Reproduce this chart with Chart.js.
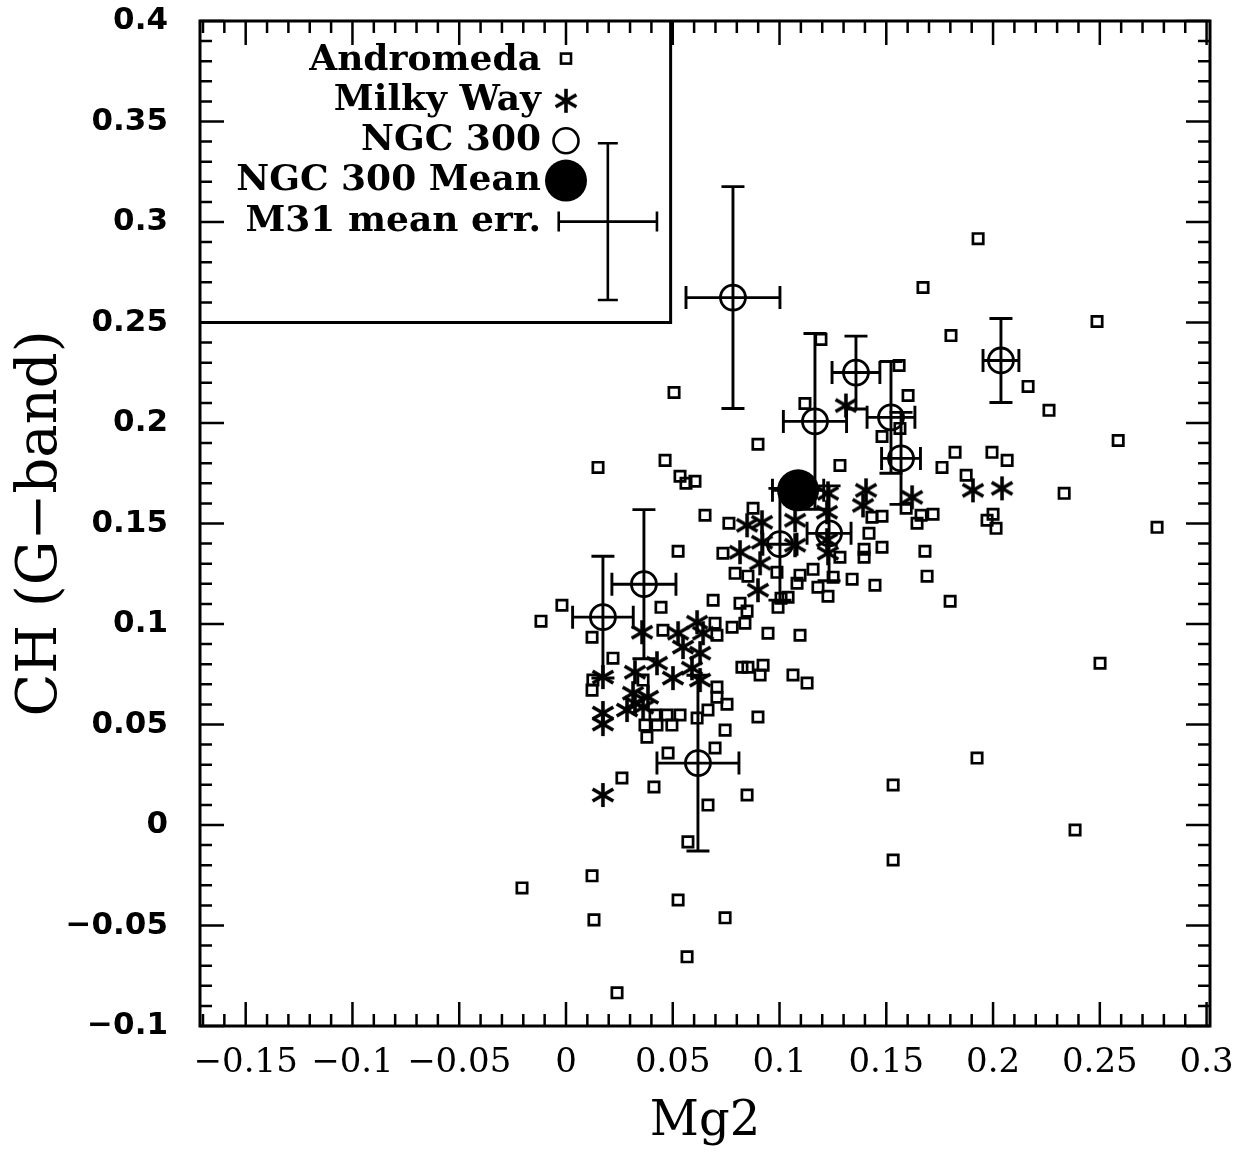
<!DOCTYPE html>
<html>
<head>
<meta charset="utf-8">
<script src="https://cdn.jsdelivr.net/npm/chart.js@4/dist/chart.umd.min.js"></script>
<style>
  html, body { margin: 0; padding: 0; background: #fff; }
  #wrap { width: 1253px; height: 1157px; }
</style>
</head>
<body>
<div id="wrap"><canvas id="c" width="1253" height="1157"></canvas></div>
<script>
// ---- Andromeda (M31) clusters: Mg2 vs CH (G-band) ----
const andromedaMg2 = [
  0.193, 0.1672, 0.1803, 0.2487, 0.1194, 0.156, 0.1602, 0.2164, 0.2262, 0.2586,
  0.1564, 0.148, 0.1822, 0.1761, 0.1874, 0.1995, 0.2066, 0.2333, 0.2768, 0.2,
  0.1972, 0.2014, 0.1433, 0.148, 0.1419, 0.1396, 0.1396, 0.148, 0.1681, 0.1691,
  0.1593, 0.1644, 0.1663, 0.1719, 0.134, 0.1447, 0.1799, 0.1283, 0.1283, 0.1119,
  0.0899, 0.0651, 0.0763, 0.0876, 0.0735, 0.0792, 0.0852, 0.0988, 0.0689, 0.0815,
  0.0848, 0.1007, 0.104, 0.0993, 0.0778, 0.0838, 0.0698, 0.0946, 0.1096, 0.1096,
  0.1082, 0.1157, 0.118, 0.1227, 0.1251, 0.015, 0.0464, 0.0534, 0.0562, 0.0604,
  0.0506, 0.0525, -0.0117, -0.0019, 0.0445, 0.0454, 0.0122, 0.022, 0.0707, 0.0361,
  0.0126, 0.0122, 0.0707, 0.0707, 0.0754, 0.0473, 0.0417, 0.0534, 0.037, 0.0426,
  0.0496, 0.0379, 0.0614, 0.0665, 0.0745, 0.0698, 0.0478, 0.0262, 0.0412, 0.0848,
  0.0665, 0.0571, 0.0122, -0.0206, 0.0525, 0.0131, 0.0745, 0.0567, 0.0239, 0.0824,
  0.0852, 0.0923, 0.0909, 0.1063, 0.1129, 0.0899, 0.1925, 0.2384, 0.2501, 0.1532,
  0.1532
];
const andromedaCH = [
  0.2917, 0.2674, 0.2435, 0.2505, 0.2416, 0.2286, 0.2137, 0.2182, 0.2063, 0.1913,
  0.1973, 0.1933, 0.1854, 0.1779, 0.174, 0.1854, 0.1814, 0.165, 0.1481, 0.1546,
  0.1516, 0.1476, 0.1531, 0.1536, 0.1451, 0.1372, 0.1332, 0.1382, 0.1362, 0.1238,
  0.1576, 0.1501, 0.1541, 0.1546, 0.1223, 0.1193, 0.1113, 0.1332, 0.1789, 0.2097,
  0.1894, 0.1541, 0.1501, 0.1576, 0.1352, 0.1252, 0.1238, 0.1257, 0.1118, 0.1103,
  0.1064, 0.1128, 0.1133, 0.1083, 0.0984, 0.1004, 0.1004, 0.0954, 0.0944, 0.1243,
  0.1203, 0.1272, 0.1183, 0.1138, 0.1233, 0.1779, 0.1814, 0.1735, 0.17, 0.171,
  0.2152, 0.1362, 0.1014, 0.1093, 0.1083, 0.0969, 0.0934, 0.083, 0.0944, 0.0721,
  0.0721, 0.0671, 0.0686, 0.0636, 0.0601, 0.0547, 0.0547, 0.0547, 0.0497, 0.0497,
  0.0497, 0.0437, 0.0532, 0.0572, 0.0472, 0.0383, 0.0358, 0.0234, 0.0189, 0.0149,
  0.0099, -0.0084, -0.0253, -0.0313, -0.0373, -0.0472, -0.0462, -0.0656, -0.0835, 0.0785,
  0.0785, 0.0795, 0.0746, 0.0746, 0.0706, 0.0537, 0.0333, -0.0025, 0.0805, 0.0199,
  -0.0174
];

// ---- Milky Way globular clusters ----
const milkyWayMg2 = [
  0.1311, 0.1405, 0.1391, 0.1621, 0.1906, 0.2042, 0.0848, 0.0918, 0.0918, 0.0815,
  0.0909, 0.0899, 0.1073, 0.1073, 0.1227, 0.1222, 0.1222, 0.1227, 0.0173, 0.0173,
  0.0173, 0.0173, 0.0356, 0.0323, 0.0426, 0.0525, 0.0614, 0.0642, 0.0548, 0.0628,
  0.059, 0.0501, 0.0314, 0.0323, 0.0286, 0.0384, 0.0361, 0.0628
];
const milkyWayCH = [
  0.2087, 0.1665, 0.159, 0.163, 0.1665, 0.1675, 0.1491, 0.1506, 0.1407, 0.1357,
  0.1302, 0.1168, 0.1516, 0.1392, 0.165, 0.1556, 0.1417, 0.1352, 0.0736, 0.0557,
  0.0502, 0.0149, 0.0959, 0.076, 0.0805, 0.0954, 0.1009, 0.0954, 0.0885, 0.0855,
  0.078, 0.0731, 0.0656, 0.0606, 0.0572, 0.0636, 0.0586, 0.0721
];

// ---- NGC 300 clusters with 1-sigma errors ----
const ngc300Mg2    = [0.0782, 0.1166, 0.1358, 0.1522, 0.1569, 0.2037, 0.0365, 0.0173, 0.1002, 0.1232, 0.0618];
const ngc300CH     = [0.2624, 0.2008, 0.2251, 0.2028, 0.1824, 0.2311, 0.1198, 0.1034, 0.1397, 0.1451, 0.0308];
const ngc300Mg2Err = [0.022, 0.0148, 0.0112, 0.0112, 0.0091, 0.0084, 0.015, 0.0142, 0.008, 0.0103, 0.0192];
const ngc300CHErr  = [0.0552, 0.0437, 0.0181, 0.0278, 0.0229, 0.0209, 0.0371, 0.0303, 0.0278, 0.0236, 0.0437];

// ---- NGC 300 mean ----
const meanMg2 = [0.1087];
const meanCH = [0.1665];
const meanMg2Err = [0.012];
const meanCHErr = [0.008];

// ---- Typical M31 error (drawn in the key) ----
const m31ErrCenter = [0.0196, 0.3002];
const m31ErrSize = [0.023, 0.039];

// ---- Axes ----
const xRange = [-0.1714, 0.3016];
const yRange = [-0.1, 0.4];
const xTickValues = [-0.15, -0.1, -0.05, 0, 0.05, 0.1, 0.15, 0.2, 0.25, 0.3];
const xTickLabels = ['\u22120.15', '\u22120.1', '\u22120.05', '0', '0.05', '0.1', '0.15', '0.2', '0.25', '0.3'];
const yTickValues = [-0.1, -0.05, 0, 0.05, 0.1, 0.15, 0.2, 0.25, 0.3, 0.35, 0.4];
const yTickLabels = ['\u22120.1', '\u22120.05', '0', '0.05', '0.1', '0.15', '0.2', '0.25', '0.3', '0.35', '0.4'];

// ---- Key ----
const keyLabels = ['Andromeda', 'Milky Way', 'NGC 300', 'NGC 300 Mean', 'M31 mean err.'];
const keyRows = [0.3803, 0.3603, 0.3404, 0.3206, 0.3002];
const keyMarkerRows = [0.3813, 0.3603, 0.3404, 0.3206];
const keyBox = [0.049, 0.25]; // right edge (Mg2), bottom edge (CH)

const zip = (a, b) => a.map((v, i) => ({ x: v, y: b[i] }));

// six-armed asterisk marker
function makeAsterisk(r, lw) {
  const s = Math.ceil(2 * r + lw + 2);
  const c = document.createElement('canvas');
  c.width = s; c.height = s;
  const g = c.getContext('2d');
  g.strokeStyle = '#000';
  g.lineWidth = lw;
  const cx = s / 2, cy = s / 2;
  [90, 30, -30].forEach(a => {
    const t = a * Math.PI / 180;
    g.beginPath();
    g.moveTo(cx - r * Math.cos(t), cy - r * Math.sin(t));
    g.lineTo(cx + r * Math.cos(t), cy + r * Math.sin(t));
    g.stroke();
  });
  return c;
}
const asterisk = makeAsterisk(12, 3.6);

function errorBar(ctx, xs, ys, cx, cy, ex, ey, cap) {
  const px = xs.getPixelForValue(cx), py = ys.getPixelForValue(cy);
  const x0 = xs.getPixelForValue(cx - ex), x1 = xs.getPixelForValue(cx + ex);
  const y0 = ys.getPixelForValue(cy - ey), y1 = ys.getPixelForValue(cy + ey);
  ctx.beginPath();
  ctx.moveTo(x0, py); ctx.lineTo(x1, py);
  ctx.moveTo(px, y0); ctx.lineTo(px, y1);
  ctx.moveTo(x0, py - cap); ctx.lineTo(x0, py + cap);
  ctx.moveTo(x1, py - cap); ctx.lineTo(x1, py + cap);
  ctx.moveTo(px - cap, y0); ctx.lineTo(px + cap, y0);
  ctx.moveTo(px - cap, y1); ctx.lineTo(px + cap, y1);
  ctx.stroke();
}

const errorBars = {
  id: 'errorBars',
  beforeDatasetsDraw(chart) {
    const { ctx, scales: { x, y } } = chart;
    ctx.save();
    ctx.strokeStyle = '#000';
    ctx.lineWidth = 2.9;
    ngc300Mg2.forEach((v, i) => errorBar(ctx, x, y, v, ngc300CH[i], ngc300Mg2Err[i], ngc300CHErr[i], 11.5));
    meanMg2.forEach((v, i) => errorBar(ctx, x, y, v, meanCH[i], meanMg2Err[i], meanCHErr[i], 11.5));
    ctx.restore();
  }
};

const frameAndKey = {
  id: 'frameAndKey',
  afterDraw(chart) {
    const { ctx, chartArea: { left, right, top, bottom }, scales: { x, y } } = chart;
    ctx.save();
    ctx.strokeStyle = '#000';
    ctx.fillStyle = '#000';

    // inward ticks on all four sides
    ctx.lineWidth = 2.5;
    ctx.beginPath();
    for (let k = -17; k <= 30; k++) {
      const px = x.getPixelForValue(k / 100);
      const len = (k % 5 === 0) ? 24 : 12;
      ctx.moveTo(px, bottom); ctx.lineTo(px, bottom - len);
      ctx.moveTo(px, top); ctx.lineTo(px, top + len);
    }
    for (let k = -10; k <= 40; k++) {
      const py = y.getPixelForValue(k / 100);
      const len = (k % 5 === 0) ? 24 : 12;
      ctx.moveTo(left, py); ctx.lineTo(left + len, py);
      ctx.moveTo(right, py); ctx.lineTo(right - len, py);
    }
    ctx.stroke();

    // frame
    ctx.lineWidth = 3;
    ctx.strokeRect(left, top, right - left, bottom - top);

    // key box
    const bx = x.getPixelForValue(keyBox[0]);
    const by = y.getPixelForValue(keyBox[1]);
    ctx.beginPath();
    ctx.moveTo(left, by); ctx.lineTo(bx, by); ctx.lineTo(bx, top);
    ctx.stroke();

    // key text
    ctx.font = 'bold 36px "DejaVu Serif"';
    ctx.textAlign = 'right';
    ctx.textBaseline = 'middle';
    const tx = x.getPixelForValue(-0.0117);
    keyLabels.forEach((t, i) => ctx.fillText(t, tx, y.getPixelForValue(keyRows[i])));

    // key markers
    const mx = x.getPixelForValue(0);
    const sq = y.getPixelForValue(keyMarkerRows[0]);
    ctx.lineWidth = 2.6;
    ctx.strokeRect(mx - 5, sq - 5, 10, 10);
    const as = y.getPixelForValue(keyMarkerRows[1]);
    ctx.drawImage(asterisk, mx - asterisk.width / 2, as - asterisk.height / 2);
    ctx.lineWidth = 2.6;
    ctx.beginPath();
    ctx.arc(mx, y.getPixelForValue(keyMarkerRows[2]), 12.5, 0, Math.PI * 2);
    ctx.stroke();
    ctx.beginPath();
    ctx.arc(mx, y.getPixelForValue(keyMarkerRows[3]), 21, 0, Math.PI * 2);
    ctx.fill();

    // typical M31 error
    ctx.lineWidth = 2.6;
    errorBar(ctx, x, y, m31ErrCenter[0], m31ErrCenter[1], m31ErrSize[0], m31ErrSize[1], 10);
    ctx.restore();
  }
};

const labelFor = (vals, labels) => v => {
  const i = vals.findIndex(t => Math.abs(t - v) < 1e-9);
  return i >= 0 ? labels[i] : '';
};

new Chart(document.getElementById('c'), {
  type: 'scatter',
  data: {
    datasets: [
      {
        label: 'NGC 300 Mean',
        data: zip(meanMg2, meanCH),
        pointStyle: 'circle',
        pointRadius: 21,
        borderWidth: 0,
        borderColor: '#000',
        backgroundColor: '#000'
      },
      {
        label: 'NGC 300',
        data: zip(ngc300Mg2, ngc300CH),
        pointStyle: 'circle',
        pointRadius: 12.5,
        borderWidth: 2.8,
        borderColor: '#000',
        backgroundColor: 'rgba(0,0,0,0)'
      },
      {
        label: 'Milky Way',
        data: zip(milkyWayMg2, milkyWayCH),
        pointStyle: asterisk,
        pointRadius: 11,
        borderColor: '#000',
        backgroundColor: '#000'
      },
      {
        label: 'Andromeda',
        data: zip(andromedaMg2, andromedaCH),
        pointStyle: 'rect',
        pointRadius: 7.3,
        borderWidth: 2.7,
        borderColor: '#000',
        backgroundColor: 'rgba(0,0,0,0)'
      }
    ]
  },
  options: {
    responsive: false,
    devicePixelRatio: 1,
    animation: false,
    events: [],
    layout: { padding: { top: 20, right: 43, left: 0, bottom: 0 } },
    plugins: { legend: { display: false }, tooltip: { enabled: false } },
    scales: {
      x: {
        type: 'linear',
        min: xRange[0],
        max: xRange[1],
        afterBuildTicks: s => { s.ticks = xTickValues.map(v => ({ value: v })); },
        afterFit: s => { s.height = 131; s.paddingLeft = 0; s.paddingRight = 0; },
        grid: { display: false },
        border: { display: false },
        ticks: {
          color: '#000',
          font: { family: 'DejaVu Serif', size: 34 },
          padding: 9,
          maxRotation: 0,
          autoSkip: false,
          callback: labelFor(xTickValues, xTickLabels)
        },
        title: {
          display: true,
          text: 'Mg2',
          color: '#000',
          font: { family: 'DejaVu Serif', size: 48 },
          padding: { top: 0, bottom: 6 }
        }
      },
      y: {
        type: 'linear',
        min: yRange[0],
        max: yRange[1],
        afterBuildTicks: s => { s.ticks = yTickValues.map(v => ({ value: v })); },
        afterFit: s => { s.width = 200; s.paddingTop = 0; s.paddingBottom = 0; },
        grid: { display: false },
        border: { display: false },
        ticks: {
          color: '#000',
          font: { family: 'DejaVu Sans', size: 31, weight: 'bold' },
          padding: 24,
          autoSkip: false,
          callback: labelFor(yTickValues, yTickLabels)
        },
        title: {
          display: true,
          text: 'CH (G\u2212band)',
          color: '#000',
          font: { family: 'DejaVu Serif', size: 56 },
          padding: { top: 8, bottom: 0 }
        }
      }
    }
  },
  plugins: [errorBars, frameAndKey]
});
</script>
</body>
</html>
